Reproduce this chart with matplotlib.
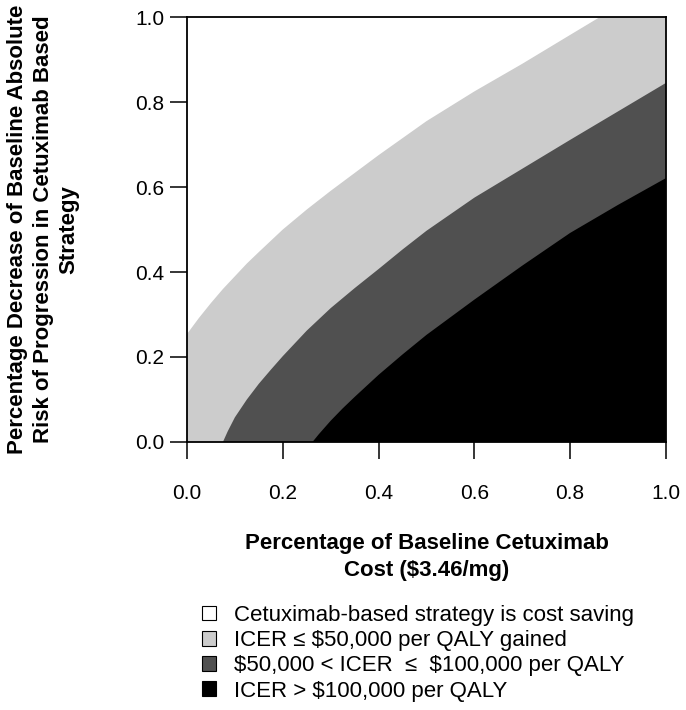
import matplotlib
matplotlib.use("Agg")
import matplotlib.pyplot as plt
from matplotlib.patches import Patch
import numpy as np

plt.rcParams['font.family'] = ['Liberation Sans', 'DejaVu Sans']

# boundary curves (x = fraction of baseline cost)
# cost-saving threshold (white / light gray)
upper_x = [0.0, 0.025, 0.05, 0.075, 0.1, 0.125, 0.15, 0.2, 0.25, 0.3, 0.4, 0.5, 0.6, 0.7, 0.8, 0.862]
upper_y = [0.254, 0.292, 0.327, 0.36, 0.39, 0.42, 0.447, 0.50, 0.547, 0.591, 0.675, 0.755, 0.825, 0.89, 0.958, 1.0]
# $50,000 per QALY threshold (light gray / dark gray)
mid_x = [0.075, 0.085, 0.1, 0.125, 0.15, 0.175, 0.2, 0.25, 0.3, 0.35, 0.4, 0.45, 0.5, 0.6, 0.7, 0.8, 0.9, 1.0]
mid_y = [0.0, 0.025, 0.058, 0.1, 0.137, 0.17, 0.202, 0.262, 0.315, 0.362, 0.407, 0.453, 0.497, 0.575, 0.643, 0.711, 0.778, 0.845]
# $100,000 per QALY threshold (dark gray / black)
low_x = [0.262, 0.275, 0.3, 0.325, 0.35, 0.4, 0.45, 0.5, 0.6, 0.7, 0.8, 0.9, 1.0]
low_y = [0.0, 0.018, 0.05, 0.079, 0.106, 0.158, 0.206, 0.252, 0.335, 0.415, 0.492, 0.558, 0.621]

labels = ["Cetuximab-based strategy is cost saving",
          "ICER \u2264 \\$50,000 per QALY gained",
          "\\$50,000 < ICER  \u2264  \\$100,000 per QALY",
          "ICER > \\$100,000 per QALY"]
colors = ["white", "#cccccc", "#505050", "black"]

fig = plt.figure(figsize=(6.86, 7.10), dpi=100)
ax = fig.add_axes([0.2726, 0.3775, 0.6982, 0.5985])

# layered fills: each region drawn under its own boundary
ax.fill(np.r_[upper_x, 1.0, 1.0, 0.0], np.r_[upper_y, 1.0, 0.0, 0.0], color=colors[1], lw=0)
ax.fill(np.r_[mid_x, 1.0], np.r_[mid_y, 0.0], color=colors[2], lw=0)
ax.fill(np.r_[low_x, 1.0], np.r_[low_y, 0.0], color=colors[3], lw=0)

ax.set_xlim(0, 1)
ax.set_ylim(0, 1)
ax.set_xticks(np.arange(0, 1.01, 0.2))
ax.set_yticks(np.arange(0, 1.01, 0.2))
ax.xaxis.set_major_formatter(plt.FormatStrFormatter('%.1f'))
ax.yaxis.set_major_formatter(plt.FormatStrFormatter('%.1f'))
ax.tick_params(direction='out', length=12.5, width=1.1, labelsize=15, colors='black')
ax.tick_params(axis='x', pad=18)
ax.tick_params(axis='y', pad=4)
for s in ax.spines.values():
    s.set_linewidth(1.3)

ax.set_xlabel("Percentage of Baseline Cetuximab\nCost (\\$3.46/mg)", fontsize=16,
              fontweight='bold', linespacing=1.35)
ax.xaxis.set_label_coords(0.5, -0.214)
ax.set_ylabel("Percentage Decrease of Baseline Absolute\nRisk of Progression in Cetuximab Based\nStrategy",
              fontsize=16, fontweight='bold', linespacing=1.3)
ax.yaxis.set_label_coords(-0.224, 0.5)

handles = [Patch(facecolor=c, edgecolor='black', linewidth=0.8) for c in colors]
fig.legend(handles, labels, loc='upper left', bbox_to_anchor=(0.295, 0.148),
           frameon=False, fontsize=16, handlelength=0.63, handleheight=0.63,
           handletextpad=0.8, labelspacing=0.19, borderpad=0, borderaxespad=0)

fig.savefig("out.png", dpi=100)
